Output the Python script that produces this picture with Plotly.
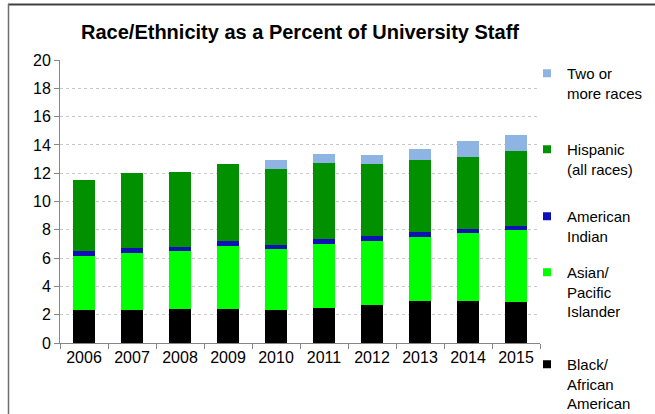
import plotly.graph_objects as go

years = ["2006", "2007", "2008", "2009", "2010", "2011", "2012", "2013", "2014", "2015"]
black = [2.35, 2.35, 2.40, 2.40, 2.31, 2.49, 2.68, 2.94, 2.94, 2.92]
asian = [3.77, 4.00, 4.09, 4.45, 4.30, 4.52, 4.50, 4.54, 4.82, 5.08]
amind = [0.35, 0.38, 0.33, 0.35, 0.31, 0.31, 0.35, 0.33, 0.29, 0.28]
hisp = [5.06, 5.29, 5.30, 5.48, 5.36, 5.39, 5.11, 5.15, 5.10, 5.32]
two = [0, 0, 0, 0, 0.66, 0.68, 0.68, 0.76, 1.13, 1.13]

series_names = ["Black/<br>African<br>American", "Asian/<br>Pacific<br>Islander",
                "American<br>Indian", "Hispanic<br>(all races)", "Two or<br>more races"]
series_values = [black, asian, amind, hisp, two]
colors = ["#000000", "#00FF00", "#1010B8", "#009000", "#8DB4E2"]
yticks = [0, 2, 4, 6, 8, 10, 12, 14, 16, 18, 20]

W, H = 655, 414
L, R, T, B = 60, 115, 60, 71
PW, PH = W - L - R, H - T - B

def px_x(p):
    return (p - L) / PW

def px_y(p):
    return (H - B - p) / PH

legend_ids = ["legend5", "legend4", "legend3", "legend2", "legend"]
legend_top_px = [348, 256, 200, 133, 57]

fig = go.Figure()
for name, vals, col, lid in zip(series_names, series_values, colors, legend_ids):
    fig.add_trace(go.Bar(x=years, y=vals, name=name, marker=dict(color=col, line=dict(width=0)),
                         showlegend=False))
    fig.add_trace(go.Scatter(x=[None], y=[None], mode="markers", name=name,
                             marker=dict(symbol="square", size=8, color=col),
                             legend=lid, showlegend=True))

legend_style = dict(font=dict(family="Liberation Sans, Arial", size=15, color="#000000"),
                    bgcolor="rgba(0,0,0,0)", borderwidth=0, valign="top",
                    xanchor="left", yanchor="top", itemclick=False)
layout_legends = {}
for lid, top in zip(legend_ids, legend_top_px):
    layout_legends[lid] = dict(x=px_x(527), y=px_y(top), **legend_style)

fig.update_layout(
    width=W, height=H,
    margin=dict(l=L, r=R, t=T, b=B, autoexpand=False),
    paper_bgcolor="white", plot_bgcolor="white",
    barmode="stack", bargap=0.56,
    font=dict(family="Liberation Sans, Arial", size=16, color="#000000"),
    title=dict(text="<b>Race/Ethnicity as a Percent of University Staff</b>",
               x=300 / W, xanchor="center", y=1 - 32 / H, yanchor="middle",
               font=dict(family="Liberation Sans, Arial", size=20, color="#000000")),
    xaxis=dict(type="category", showline=True, linecolor="#868686", linewidth=1,
               ticks="outside", ticklen=5, tickcolor="#868686", tickson="boundaries",
               showgrid=False, tickfont=dict(size=16)),
    yaxis=dict(range=[0, 20], tickvals=yticks, showline=True, linecolor="#868686", linewidth=1,
               ticks="outside", ticklen=5, tickcolor="#868686",
               showgrid=True, gridcolor="#C8C8C8", griddash="dot", gridwidth=1,
               zeroline=False, tickfont=dict(size=16)),
    shapes=[
        dict(type="line", xref="paper", yref="paper", layer="above",
             x0=px_x(8), x1=px_x(W + 5), y0=px_y(4.5), y1=px_y(4.5),
             line=dict(color="#404040", width=2)),
        dict(type="line", xref="paper", yref="paper", layer="above",
             x0=px_x(8.5), x1=px_x(8.5), y0=px_y(4), y1=px_y(H + 5),
             line=dict(color="#6E6E6E", width=1.5)),
    ],
    **layout_legends,
)

fig.write_html("out.html",
               config={"displayModeBar": False},
               post_script="document.body.style.margin='0';document.body.style.padding='0';"
                           "document.body.style.overflow='hidden';")
